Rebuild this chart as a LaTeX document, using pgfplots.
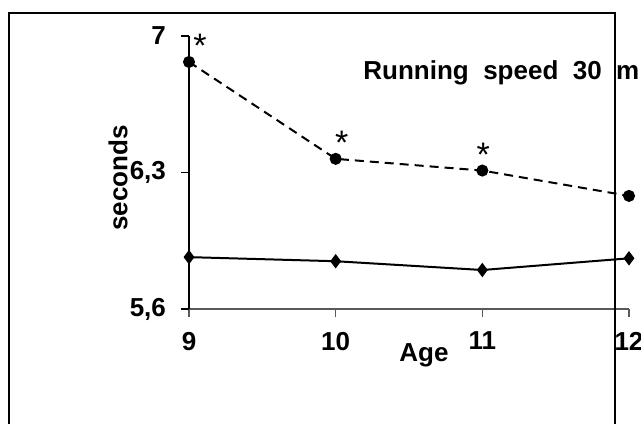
\documentclass[border=0pt]{standalone}
\usepackage{pgfplots}
\pgfplotsset{compat=1.18}
\usepackage{pgfplotstable}
\usepackage{fontspec}
\setmainfont{Liberation Sans}

\pgfplotstableread{
age  t     dx   lab
9    6.867 5.5  *
10   6.37  3    *
11   6.31  0.5  *
12   6.18  0    {}
}\slow
\pgfplotstableread{
age  t
9    5.866
10   5.845
11   5.80
12   5.86
}\fast

\begin{document}
\begin{tikzpicture}[font=\fontsize{13}{15}\selectfont\bfseries]
\begin{axis}[
    scale only axis,
    width=220pt, height=136.5pt,
    xmin=9, xmax=12, ymin=5.6, ymax=7,
    axis x line*=bottom, axis y line*=left,
    x axis line style={draw=black!65, line width=0.8pt},
    y axis line style={line width=0.8pt},
    xtick={9,10,11,12}, ytick={5.6,6.3,7},
    tick align=outside, major tick length=4pt,
    tick style={black, line width=0.6pt},
    x tick style={black!65},
    /pgf/number format/assume math mode=true,
    /pgf/number format/use comma,
    /pgf/number format/precision=1,
    ticklabel style={font=\fontsize{13}{15}\selectfont\bfseries},
    yticklabel style={xshift=-4pt},
    xticklabel style={yshift=-4pt},
    xlabel={Age},
    xlabel style={at={(axis description cs:0.534,0)}, anchor=center, yshift=-23pt},
    ylabel={seconds},
    ylabel style={at={(axis description cs:-0.161,0.48)}, anchor=center},
    clip=false,
]
\addplot[black, line width=1pt, dash pattern=on 4.5pt off 3pt,
    mark=*, mark size=2.5pt, mark options={solid},
    point meta=explicit symbolic,
    visualization depends on={\thisrow{dx} \as \dx},
    nodes near coords,
    every node near coord/.style={anchor=base, inner sep=0pt,
        xshift=\dx pt, yshift=2pt, font=\fontsize{17}{17}\selectfont\mdseries}]
    table[x=age, y=t, meta=lab] {\slow};
\addplot[black, line width=1pt, mark=diamond*, mark size=2.8pt]
    table[x=age, y=t] {\fast};
\end{axis}
\node[anchor=west, inner sep=0pt] at (87pt,118pt) {Running~~speed~~30~~m};
\draw[line width=1pt] (-90pt,-60pt) -- (-90pt,148pt) -- (213pt,148pt) -- (213pt,-60pt);
\pgfresetboundingbox
\useasboundingbox (-94.5pt,-57pt) rectangle (226pt,154.5pt);
\end{tikzpicture}
\end{document}
